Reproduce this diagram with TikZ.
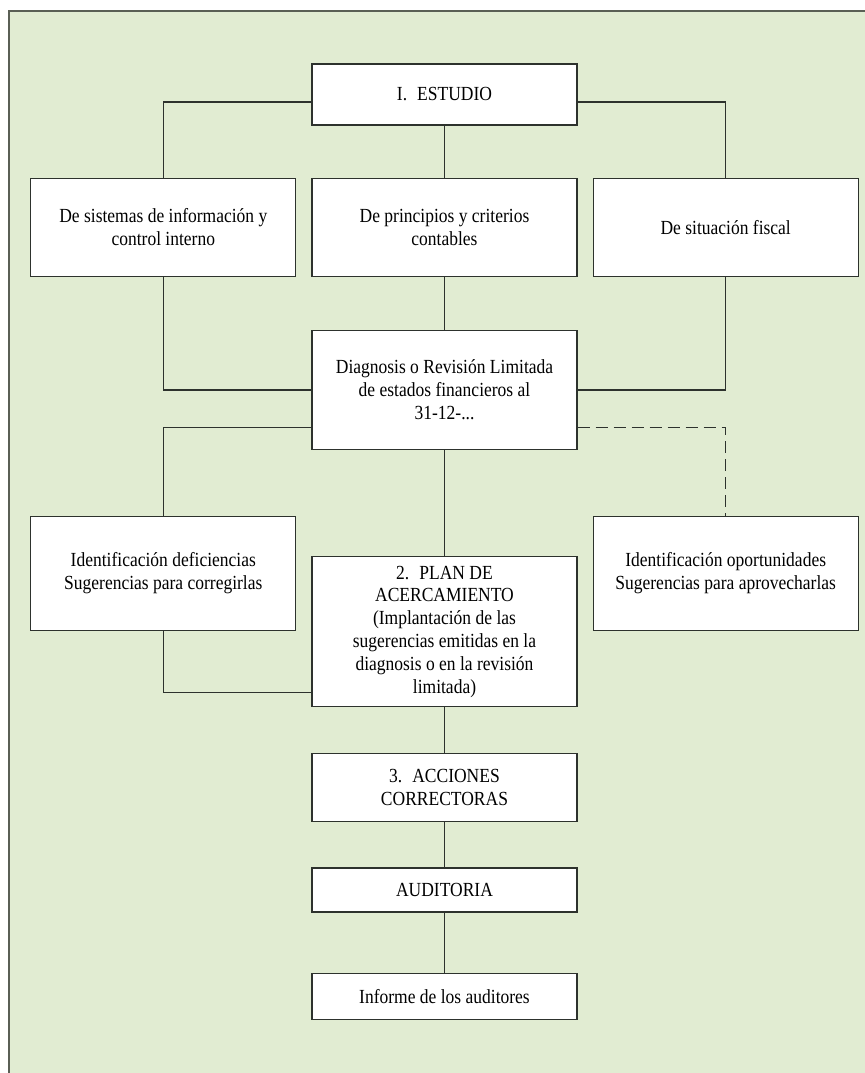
\documentclass[tikz,border=0pt]{standalone}
\usepackage{fontspec}
\setmainfont[FakeStretch=0.875]{Liberation Serif}
\usepackage{xcolor}
\usepackage{tikz}
\usetikzlibrary{positioning}
\definecolor{clrBg}{RGB}{225,236,210}
\definecolor{clrFrame}{RGB}{90,95,85}
\definecolor{clrLine}{RGB}{45,50,45}

\begin{document}
\begin{tikzpicture}[
  box/.style={
    rectangle, draw=clrLine, fill=white, line width=0.6pt,
    minimum width=132.5pt, align=center, inner sep=3pt,
    font=\fontsize{10}{11.4}\selectfont
  },
  conn/.style={draw=clrLine, line width=0.6pt},
  dconn/.style={conn, dash pattern=on 6pt off 3pt}
]

% page and frame
\useasboundingbox (0,0) rectangle (432.5pt,-536.5pt);
\fill[clrBg] (4.5pt,-5.5pt) rectangle (432.5pt,-536.5pt);
\draw[clrFrame, line width=0.6pt] (4.5pt,-536.5pt) |- (432.5pt,-5.5pt);

\node[box, minimum height=30.5pt] (estudio) at (222.25pt,-47.25pt) {I.\enspace ESTUDIO};

\node[box, minimum height=49pt, below=26pt of estudio] (contab)
      {De principios y criterios\\contables};
\node[box, minimum height=49pt, left=7.5pt of contab] (sistemas)
      {De sistemas de información y\\control interno};
\node[box, minimum height=49pt, right=7.5pt of contab] (fiscal)
      {De situación fiscal};

\node[box, minimum height=59.5pt, below=26.5pt of contab] (diag)
      {Diagnosis o Revisión Limitada\\de estados financieros al\\31-12-...};

\node[box, minimum height=57pt, below=119.5pt of sistemas] (defic)
      {Identificación deficiencias\\Sugerencias para corregirlas};
\node[box, minimum height=57pt, below=119.5pt of fiscal] (oport)
      {Identificación oportunidades\\Sugerencias para aprovecharlas};

\node[box, minimum height=75pt, below=53pt of diag] (plan)
      {2.\enspace PLAN DE\\ACERCAMIENTO\\(Implantación de las\\sugerencias emitidas en la\\diagnosis o en la revisión\\limitada)};
\node[box, minimum height=34pt, below=23pt of plan] (acciones)
      {3.\enspace ACCIONES\\CORRECTORAS};
\node[box, minimum height=22pt, below=22.5pt of acciones] (auditoria) {AUDITORIA};
\node[box, minimum height=23pt, below=30pt of auditoria] (informe)
      {Informe de los auditores};

\draw[conn] ([yshift=-3.75pt]estudio.west) -| (sistemas);
\draw[conn] (estudio) -- (contab);
\draw[conn] ([yshift=-3.75pt]estudio.east) -| (fiscal);

\draw[conn] (sistemas) |- (diag);
\draw[conn] (contab) -- (diag);
\draw[conn] (fiscal) |- (diag);

\draw[conn] ([yshift=-18.75pt]diag.west) -| (defic);
\draw[dconn] ([yshift=-18.75pt]diag.east) -| (oport);
\draw[conn] (diag) -- (plan);
\draw[conn] (defic) |- ([yshift=7.5pt]plan.south west);

\draw[conn] (plan) -- (acciones);
\draw[conn] (acciones) -- (auditoria);
\draw[conn] (auditoria) -- (informe);

\end{tikzpicture}
\end{document}
